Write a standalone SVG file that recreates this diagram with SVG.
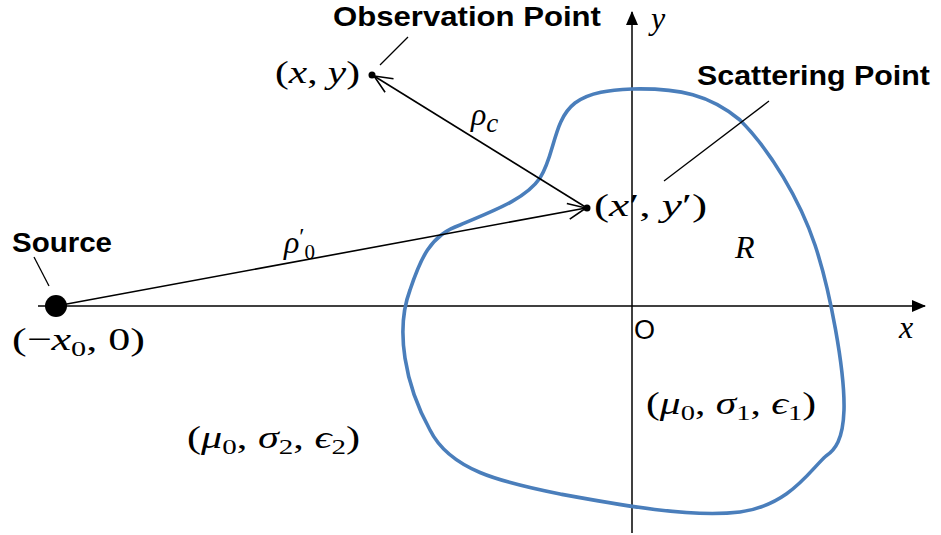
<svg xmlns="http://www.w3.org/2000/svg" width="941" height="535" viewBox="0 0 941 535">
<style>
.ax{stroke:#000;stroke-width:1.5;fill:none}
.ln{stroke:#000;stroke-width:1.6;fill:none}
.ld{stroke:#000;stroke-width:1.3;fill:none}
.lbl{font-family:"Liberation Sans",Arial,sans-serif;font-weight:bold;font-size:27px;fill:#000}
.m{font-family:"Liberation Serif","Times New Roman",serif;font-size:32px;fill:#000}
.i{font-style:italic}
.s{font-size:22px}
.reg{fill:none;stroke:#4a7ebb;stroke-width:3.6}
</style>
<defs>
<marker id="tri" markerUnits="userSpaceOnUse" markerWidth="14" markerHeight="12" refX="13" refY="6" orient="auto">
<path d="M0,0 L14,6 L0,12 Z" fill="#000"/>
</marker>
<marker id="vee" markerUnits="userSpaceOnUse" markerWidth="22" markerHeight="20" refX="20" refY="10" orient="auto">
<path d="M2,2 L20,10 L2,18" fill="none" stroke="#000" stroke-width="1.6"/>
</marker>
</defs>
<rect width="941" height="535" fill="#fff"/>
<g id="axes">
<line class="ax" x1="38" y1="306" x2="925" y2="306" marker-end="url(#tri)"/>
<line class="ax" x1="632" y1="533" x2="632" y2="12" marker-end="url(#tri)"/>
<text class="m i" x="899" y="338" font-size="33">x</text>
<text class="m i" x="651" y="29" font-size="31">y</text>
<text x="634" y="339" font-family="Liberation Sans,Arial,sans-serif" font-size="27">O</text>
</g>
<g id="region">
<path class="reg" d="M632,89 C680,88 710,95 740,120 C770,150 800,200 815,245 C830,290 845,370 844,410 C843,440 835,450 826,456 C810,470 790,505 740,512 C690,518 620,505 560,494 C500,482 450,470 430,430 C405,385 395,330 410,290 C420,260 430,235 460,225 C490,212 525,200 540,178 C555,155 553,120 575,103 C590,92 610,90 632,89 Z"/>
<text class="m i" x="735" y="258" font-size="54">R</text>
<text class="m" x="646" y="414" font-size="34" textLength="170" lengthAdjust="spacingAndGlyphs">(<tspan class="i">μ</tspan><tspan class="s" dy="6">0</tspan><tspan dy="-6">, </tspan><tspan class="i">σ</tspan><tspan class="s" dy="6">1</tspan><tspan dy="-6">, </tspan><tspan class="i">ϵ</tspan><tspan class="s" dy="6">1</tspan><tspan dy="-6">)</tspan></text>
</g>
<g id="medium">
<text class="m" x="187" y="448" font-size="34" textLength="173" lengthAdjust="spacingAndGlyphs">(<tspan class="i">μ</tspan><tspan class="s" dy="6">0</tspan><tspan dy="-6">, </tspan><tspan class="i">σ</tspan><tspan class="s" dy="6">2</tspan><tspan dy="-6">, </tspan><tspan class="i">ϵ</tspan><tspan class="s" dy="6">2</tspan><tspan dy="-6">)</tspan></text>
</g>
<g id="source">
<circle cx="56" cy="306" r="11" fill="#000"/>
<text class="lbl" x="12" y="252" textLength="100" lengthAdjust="spacingAndGlyphs">Source</text>
<text class="m" x="12" y="350" textLength="133" lengthAdjust="spacingAndGlyphs">(−<tspan class="i">x</tspan><tspan class="s" dy="6">0</tspan><tspan dy="-6">, 0)</tspan></text>
</g>
<g id="observation">
<circle cx="372" cy="75" r="3.5" fill="#000"/>
<text class="lbl" x="333" y="26" textLength="268" lengthAdjust="spacingAndGlyphs">Observation Point</text>
<text class="m" x="275" y="83" textLength="85" lengthAdjust="spacingAndGlyphs">(<tspan class="i">x</tspan>, <tspan class="i">y</tspan>)</text>
</g>
<g id="scattering">
<circle cx="587" cy="208" r="3.5" fill="#000"/>
<text class="lbl" x="697" y="85" textLength="233" lengthAdjust="spacingAndGlyphs">Scattering Point</text>
<text class="m" x="594" y="216" font-size="33" textLength="113" lengthAdjust="spacingAndGlyphs">(<tspan class="i">x</tspan>′, <tspan class="i">y</tspan>′)</text>
</g>
<g id="connectors">
<line class="ln" x1="56" y1="306" x2="586" y2="208" marker-end="url(#vee)"/>
<line class="ln" x1="587" y1="208" x2="374" y2="76" marker-end="url(#vee)"/>
<line class="ld" x1="408" y1="37" x2="380" y2="65"/>
<line class="ld" x1="769" y1="101" x2="664" y2="181"/>
<line class="ld" x1="34" y1="257" x2="49" y2="286"/>
<text class="m i" x="471" y="125" font-size="38">ρ<tspan font-size="27" dy="7">c</tspan></text>
<text class="m i" x="284" y="253" font-size="37">ρ<tspan font-style="normal" font-size="24" dy="-9">′</tspan><tspan font-style="normal" font-size="21" dy="15">0</tspan></text>
</g>
</svg>
